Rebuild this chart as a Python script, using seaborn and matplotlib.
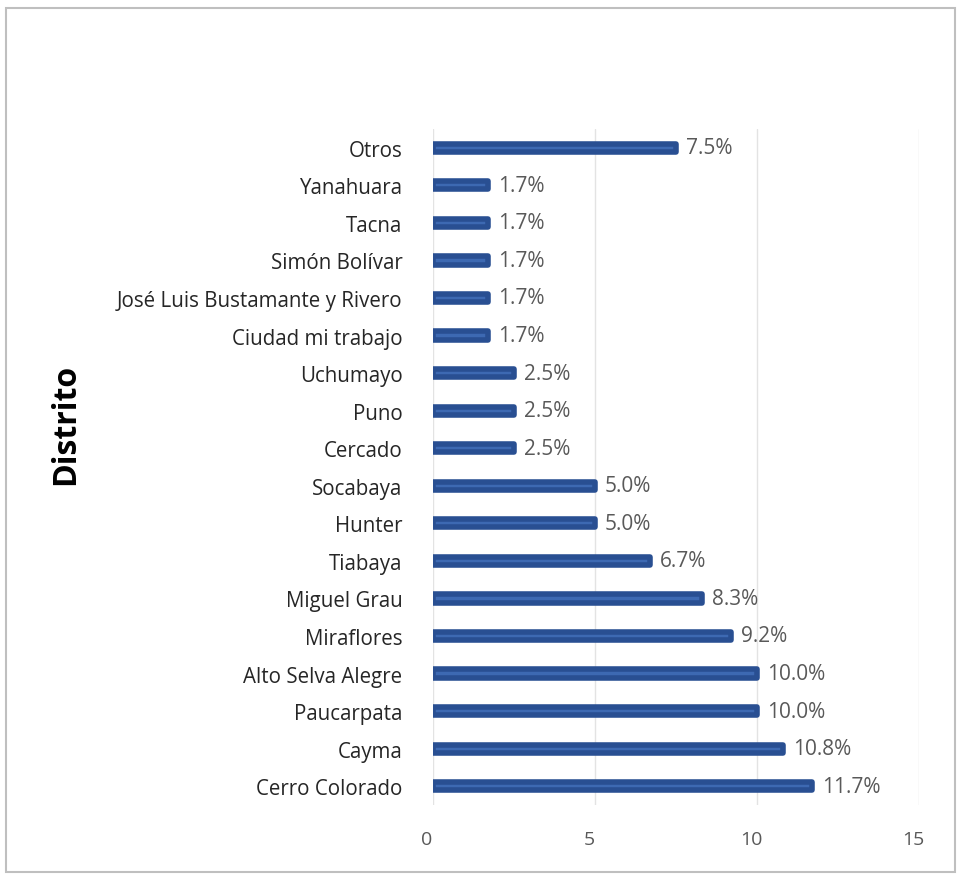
import seaborn as sns
import matplotlib.pyplot as plt
import matplotlib.transforms as mtransforms
from matplotlib.patches import Rectangle

# Districts, bottom to top as in the chart
districts = [
    'Cerro Colorado', 'Cayma', 'Paucarpata', 'Alto Selva Alegre', 'Miraflores',
    'Miguel Grau', 'Tiabaya', 'Hunter', 'Socabaya', 'Cercado', 'Puno', 'Uchumayo',
    'Ciudad mi trabajo', 'José Luis Bustamante y Rivero', 'Simón Bolívar',
    'Tacna', 'Yanahuara', 'Otros'
]
percent = [11.7, 10.8, 10.0, 10.0, 9.2, 8.3, 6.7, 5.0, 5.0, 2.5, 2.5, 2.5,
           1.7, 1.7, 1.7, 1.7, 1.7, 7.5]

# top-to-bottom order for the seaborn categorical axis
order = districts[::-1]
vals = percent[::-1]

sns.set_style("white")
plt.rcParams['font.family'] = ['Open Sans', 'DejaVu Sans']

fig = plt.figure(figsize=(9.61, 8.78), dpi=100)
fig.patch.set_facecolor('white')
ax = fig.add_axes([0.4506, 0.082, 0.5057, 0.77])

sns.barplot(x=vals, y=order, order=order, color='#3D69B2', width=0.22,
            orient='h', ax=ax, saturation=1)

# rounded, darker outline to mimic the cylinder look
for p in ax.patches:
    p.set_edgecolor('#294F92')
    p.set_linewidth(4)
    p.set_joinstyle('round')

ax.set_xlim(0, 15)
ax.set_xticks([0, 5, 10, 15])
ax.grid(axis='x', color='#E3E3E3', linewidth=1)
ax.set_axisbelow(True)
for s in ax.spines.values():
    s.set_visible(False)

ax.tick_params(axis='x', length=0, pad=18, labelsize=14, labelcolor='#595959')
ax.tick_params(axis='y', length=0, pad=22, labelsize=14.8, labelcolor='#262626')
# tick labels sit a bit left of the grid lines in the original
shift = mtransforms.ScaledTranslation(-6 / 100, 0, fig.dpi_scale_trans)
for lbl in ax.get_xticklabels():
    lbl.set_transform(lbl.get_transform() + shift)

ax.set_ylabel('Distrito', fontsize=23, fontweight='bold', color='black')
ax.yaxis.set_label_coords(-0.722, 0.565)
ax.set_xlabel('')

for i, v in enumerate(vals):
    ax.text(v + 0.3, i, f'{v:.1f}%', va='center', ha='left',
            fontsize=15, color='#595959')

# outer chart frame
fig.patches.append(Rectangle((0.006, 0.006), 0.988, 0.984, transform=fig.transFigure,
                             fill=False, edgecolor='#BFBFBF', linewidth=1.5))

fig.savefig('out.png', dpi=100)
